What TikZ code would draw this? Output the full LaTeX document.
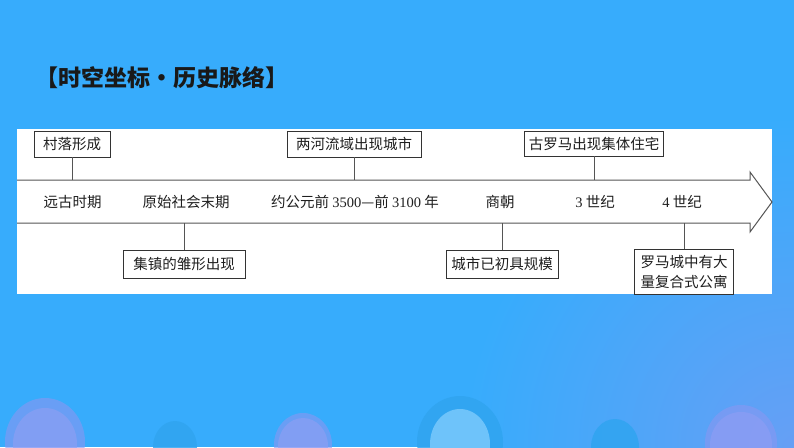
\documentclass[tikz,border=0pt]{standalone}
\usepackage{fontspec}
\setmainfont{Liberation Serif}
\newfontfamily\cjk{Noto Sans CJK SC}
\definecolor{bgblue}{HTML}{37ACFC}
\definecolor{bgpurple}{HTML}{669FF5}
\definecolor{dotpurple}{HTML}{8598F2}
\definecolor{dotpurpleIn}{HTML}{8E9EF3}
\definecolor{dotdark}{HTML}{30A4F0}
\definecolor{dotlight}{HTML}{6EC3FA}
\definecolor{linegray}{HTML}{555555}
\newcommand\numf[1]{{\rmfamily #1}}
\begin{document}
\begin{tikzpicture}[x=1pt,y=-1pt,
  lbl/.style={font=\cjk\fontsize{14.5}{18}\selectfont, text=black!88, inner sep=0pt},
  evbox/.style={draw=black!80, line width=0.9pt, fill=white, text=black!88,
    font=\cjk\fontsize{14.5}{20}\selectfont, inner sep=0pt, align=center},
  tline/.style={draw=linegray, line width=1pt},
  conn/.style={draw=linegray, line width=1pt}]
\useasboundingbox (0,0) rectangle (794,447);
% background
\begin{scope}
\clip (0,0) rectangle (794,447);
\fill[bgblue] (0,0) rectangle (794,447);
\shade[inner color=bgpurple, outer color=bgblue] (794,447) ellipse [x radius=330, y radius=330];
% decorative ellipses
\fill[dotpurple, opacity=0.65] (45,442) ellipse [x radius=40, y radius=44];
\fill[dotpurpleIn, opacity=0.65] (45,444) ellipse [x radius=32, y radius=36];
\fill[dotdark, opacity=0.85] (175,447) ellipse [x radius=22, y radius=26];
\fill[dotpurple, opacity=0.65] (303,445) ellipse [x radius=29, y radius=32];
\fill[dotpurpleIn, opacity=0.65] (303,446) ellipse [x radius=25, y radius=28];
\fill[dotdark, opacity=0.85] (460,442) ellipse [x radius=43, y radius=46];
\fill[dotlight] (460,444) ellipse [x radius=30, y radius=35];
\fill[dotdark, opacity=0.85] (615,447) ellipse [x radius=24, y radius=28];
\fill[dotpurple, opacity=0.65] (741,443) ellipse [x radius=36, y radius=38];
\fill[dotpurpleIn, opacity=0.65] (741,445) ellipse [x radius=31, y radius=33];
\end{scope}
% title
\node[font=\cjk\bfseries\fontsize{23}{26}\selectfont, text=black!90, inner sep=0pt] (title) at (162,78) {【时空坐标·历史脉络】};
% panel
\fill[white] (17,129) rectangle (772,294);
% timeline arrow
\draw[tline, line join=miter] (17,180) -- (750,180) -- (750,172) -- (772,202) -- (750,232) -- (750,223) -- (17,223);
\coordinate (c1) at (72,180);
\coordinate (c2) at (354,180);
\coordinate (c3) at (594,180);
\coordinate (c4) at (184,223);
\coordinate (c5) at (502,223);
\coordinate (c6) at (684,223);
% timeline labels
\node[lbl] (t1) at (72.5,202) {远古时期};
\node[lbl] (t2) at (186,202) {原始社会末期};
\node[lbl] (t3) at (355,202) {约公元前 \numf{3500}—前 \numf{3100} 年};
\node[lbl] (t4) at (500,202) {商朝};
\node[lbl] (t5) at (595,202) {\numf{3} 世纪};
\node[lbl] (t6) at (682,202) {\numf{4} 世纪};
% event boxes
\node[evbox, minimum width=76pt, minimum height=26pt] (b1) at (72,144) {村落形成};
\node[evbox, minimum width=134pt, minimum height=26pt] (b2) at (354,144) {两河流域出现城市};
\node[evbox, minimum width=139pt, minimum height=25pt] (b3) at (594,143.5) {古罗马出现集体住宅};
\node[evbox, minimum width=122pt, minimum height=28pt] (b4) at (184,264) {集镇的雏形出现};
\node[evbox, minimum width=112pt, minimum height=28pt] (b5) at (502,264) {城市已初具规模};
\node[evbox, minimum width=99pt, minimum height=45pt] (b6) at (684,271.5) {罗马城中有大\\量复合式公寓};
% connectors
\draw[conn] (b1.south) -- (c1);
\draw[conn] (b2.south) -- (c2);
\draw[conn] (b3.south) -- (c3);
\draw[conn] (b4.north) -- (c4);
\draw[conn] (b5.north) -- (c5);
\draw[conn] (b6.north) -- (c6);
\end{tikzpicture}
\end{document}
